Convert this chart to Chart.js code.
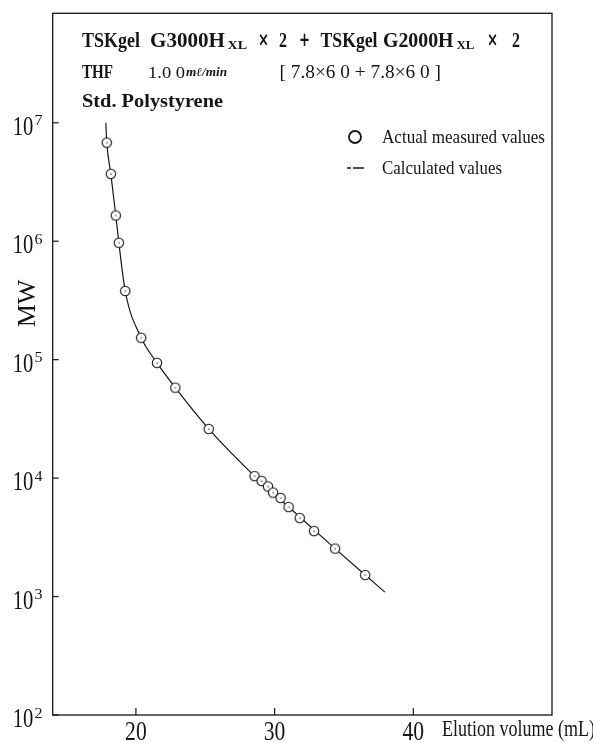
<!DOCTYPE html>
<html>
<head>
<meta charset="utf-8">
<script src="https://cdn.jsdelivr.net/npm/chart.js@4.4.1/dist/chart.umd.min.js"></script>
<style>
  html, body { margin: 0; padding: 0; background: #fff; }
  #wrap { width: 593px; height: 742px; position: relative; }
</style>
</head>
<body>
<div id="wrap"><canvas id="calib"></canvas></div>
<script>
// measured standards (elution volume mL / molecular weight)
const volumeMeasured = [17.90, 18.19, 18.55, 18.77, 19.23, 20.38, 21.52, 22.84, 25.25, 28.55, 29.06, 29.52, 29.89, 30.43, 31.01, 31.81, 32.84, 34.36, 36.53];
const mwMeasured = [6.8e6, 3.7e6, 1.65e6, 9.7e5, 3.8e5, 1.53e5, 9.4e4, 5.8e4, 2.6e4, 1.04e4, 9.45e3, 8.5e3, 7.55e3, 6.8e3, 5.7e3, 4.6e3, 3.57e3, 2.54e3, 1.52e3];
// calculated calibration curve
const volumeCalc = [17.83, 17.90, 18.19, 18.55, 18.77, 19.23, 20.38, 21.52, 22.84, 25.25, 28.55, 31.01, 34.36, 36.53, 37.95];
const mwCalc = [1.0e7, 6.8e6, 3.7e6, 1.65e6, 9.7e5, 3.8e5, 1.53e5, 9.4e4, 5.8e4, 2.6e4, 1.04e4, 5.7e3, 2.54e3, 1.52e3, 1.09e3];
const xTicks = [20, 30, 40];
const yTicks = [1e2, 1e3, 1e4, 1e5, 1e6, 1e7];
const xRange = [14, 50];
const yRange = [100, 8.4e7];

const INK = '#151515';

function ringMarker() {
  const c = document.createElement('canvas');
  c.width = 14; c.height = 14;
  const g = c.getContext('2d');
  g.strokeStyle = INK; g.lineWidth = 1.1; g.fillStyle = '#fff';
  g.beginPath(); g.arc(7, 7, 4.7, 0, Math.PI * 2); g.fill(); g.stroke();
  g.fillStyle = INK; g.fillRect(6.5, 6.5, 1.2, 1.2);
  return c;
}

// draw text squeezed/stretched to fit between x0 and x1
function fitText(ctx, str, x0, x1, y, font) {
  ctx.save();
  ctx.font = font;
  const w = ctx.measureText(str).width;
  ctx.translate(x0, y);
  ctx.scale((x1 - x0) / w, 1);
  ctx.textAlign = 'left';
  ctx.textBaseline = 'alphabetic';
  ctx.fillText(str, 0, 0);
  ctx.restore();
}

const decor = {
  id: 'decor',
  afterDraw(chart) {
    const ctx = chart.ctx;
    const a = chart.chartArea;
    const xs = chart.scales.x, ys = chart.scales.y;
    ctx.save();
    ctx.fillStyle = INK;
    ctx.strokeStyle = INK;
    // frame
    ctx.lineWidth = 1.3;
    ctx.strokeRect(a.left, a.top, a.right - a.left, a.bottom - a.top);
    // inward ticks + labels
    ctx.lineWidth = 1.2;
    yTicks.forEach((v) => {
      const y = ys.getPixelForValue(v);
      ctx.beginPath(); ctx.moveTo(a.left, y); ctx.lineTo(a.left + 6, y); ctx.stroke();
      fitText(ctx, '10', 12.7, 33.3, y + 12, '28px "Liberation Serif"');
      fitText(ctx, String(Math.round(Math.log10(v))), 34.5, 42.5, y + 2.5, '14px "Liberation Serif"');
    });
    xTicks.forEach((v) => {
      const x = xs.getPixelForValue(v);
      ctx.beginPath(); ctx.moveTo(x, a.bottom); ctx.lineTo(x, a.bottom - 7); ctx.stroke();
      fitText(ctx, String(v), x - 10.8, x + 10.8, 740, '28px "Liberation Serif"');
    });
    // axis titles
    fitText(ctx, 'Elution volume (mL)', 442, 595, 736, '24px "Liberation Serif"');
    ctx.save();
    ctx.translate(28.5, 303.5);
    ctx.rotate(-Math.PI / 2);
    ctx.font = '26px "Liberation Serif"';
    ctx.textAlign = 'center';
    ctx.textBaseline = 'middle';
    ctx.fillText('MW', 0, 0);
    ctx.restore();
    // condition block
    const B = 'bold 20px "Liberation Serif"';
    const Bs = 'bold 13px "Liberation Serif"';
    const Op = 'bold 19px "DejaVu Sans"';
    fitText(ctx, 'TSKgel', 82, 140, 47, B);
    fitText(ctx, 'G3000H', 150, 225, 47, B);
    fitText(ctx, 'XL', 227.5, 247, 49, Bs);
    fitText(ctx, '×', 258, 269, 46, Op);
    fitText(ctx, '2', 279, 287, 47, B);
    fitText(ctx, '+', 299, 310, 46, Op);
    fitText(ctx, 'TSKgel', 320.5, 377.5, 47, B);
    fitText(ctx, 'G2000H', 383, 453.5, 47, B);
    fitText(ctx, 'XL', 456.5, 474.5, 49, Bs);
    fitText(ctx, '×', 487, 498, 46, Op);
    fitText(ctx, '2', 512, 520, 47, B);

    fitText(ctx, 'THF', 82, 113, 78, 'bold 18px "Liberation Serif"');
    fitText(ctx, '1.0 0', 148, 185, 78, '17px "Liberation Serif"');
    fitText(ctx, 'mℓ/min', 186, 227, 76, 'italic bold 12px "Liberation Serif"');
    fitText(ctx, '[ 7.8×6 0 + 7.8×6 0 ]', 279.5, 441, 78, '18px "Liberation Serif"');

    fitText(ctx, 'Std. Polystyrene', 82, 223, 107, 'bold 18px "Liberation Serif"');

    // legend
    ctx.lineWidth = 1.8;
    ctx.beginPath(); ctx.arc(355, 137, 6, 0, Math.PI * 2); ctx.stroke();
    fitText(ctx, 'Actual measured values', 382, 545, 143, '18px "Liberation Serif"');
    ctx.lineWidth = 1.3;
    ctx.beginPath(); ctx.moveTo(347, 168); ctx.lineTo(351, 168); ctx.moveTo(353, 168); ctx.lineTo(364, 168); ctx.stroke();
    fitText(ctx, 'Calculated values', 382, 502, 174, '18px "Liberation Serif"');
    ctx.restore();
  },
};

new Chart(document.getElementById('calib'), {
  type: 'scatter',
  data: {
    datasets: [
      {
        label: 'Actual measured values',
        data: volumeMeasured.map((v, i) => ({ x: v, y: mwMeasured[i] })),
        pointStyle: ringMarker(),
        order: 0,
      },
      {
        label: 'Calculated values',
        data: volumeCalc.map((v, i) => ({ x: v, y: mwCalc[i] })),
        showLine: true,
        pointRadius: 0,
        borderColor: INK,
        borderWidth: 1.2,
        cubicInterpolationMode: 'monotone',
        order: 1,
      },
    ],
  },
  options: {
    responsive: true,
    maintainAspectRatio: false,
    animation: false,
    layout: { padding: { top: 13.3, right: 41, left: 0, bottom: 0 } },
    plugins: { legend: { display: false }, tooltip: { enabled: false } },
    scales: {
      x: {
        type: 'linear', min: xRange[0], max: xRange[1],
        afterBuildTicks: (s) => { s.ticks = xTicks.map((v) => ({ value: v })); },
        afterFit: (s) => { s.height = 27; },
        ticks: { display: false },
        grid: { display: false },
        border: { display: false },
      },
      y: {
        type: 'logarithmic', min: yRange[0], max: yRange[1],
        afterBuildTicks: (s) => { s.ticks = yTicks.map((v) => ({ value: v })); },
        afterFit: (s) => { s.width = 52.7; },
        ticks: { display: false },
        grid: { display: false },
        border: { display: false },
      },
    },
  },
  plugins: [decor],
});
</script>
</body>
</html>
